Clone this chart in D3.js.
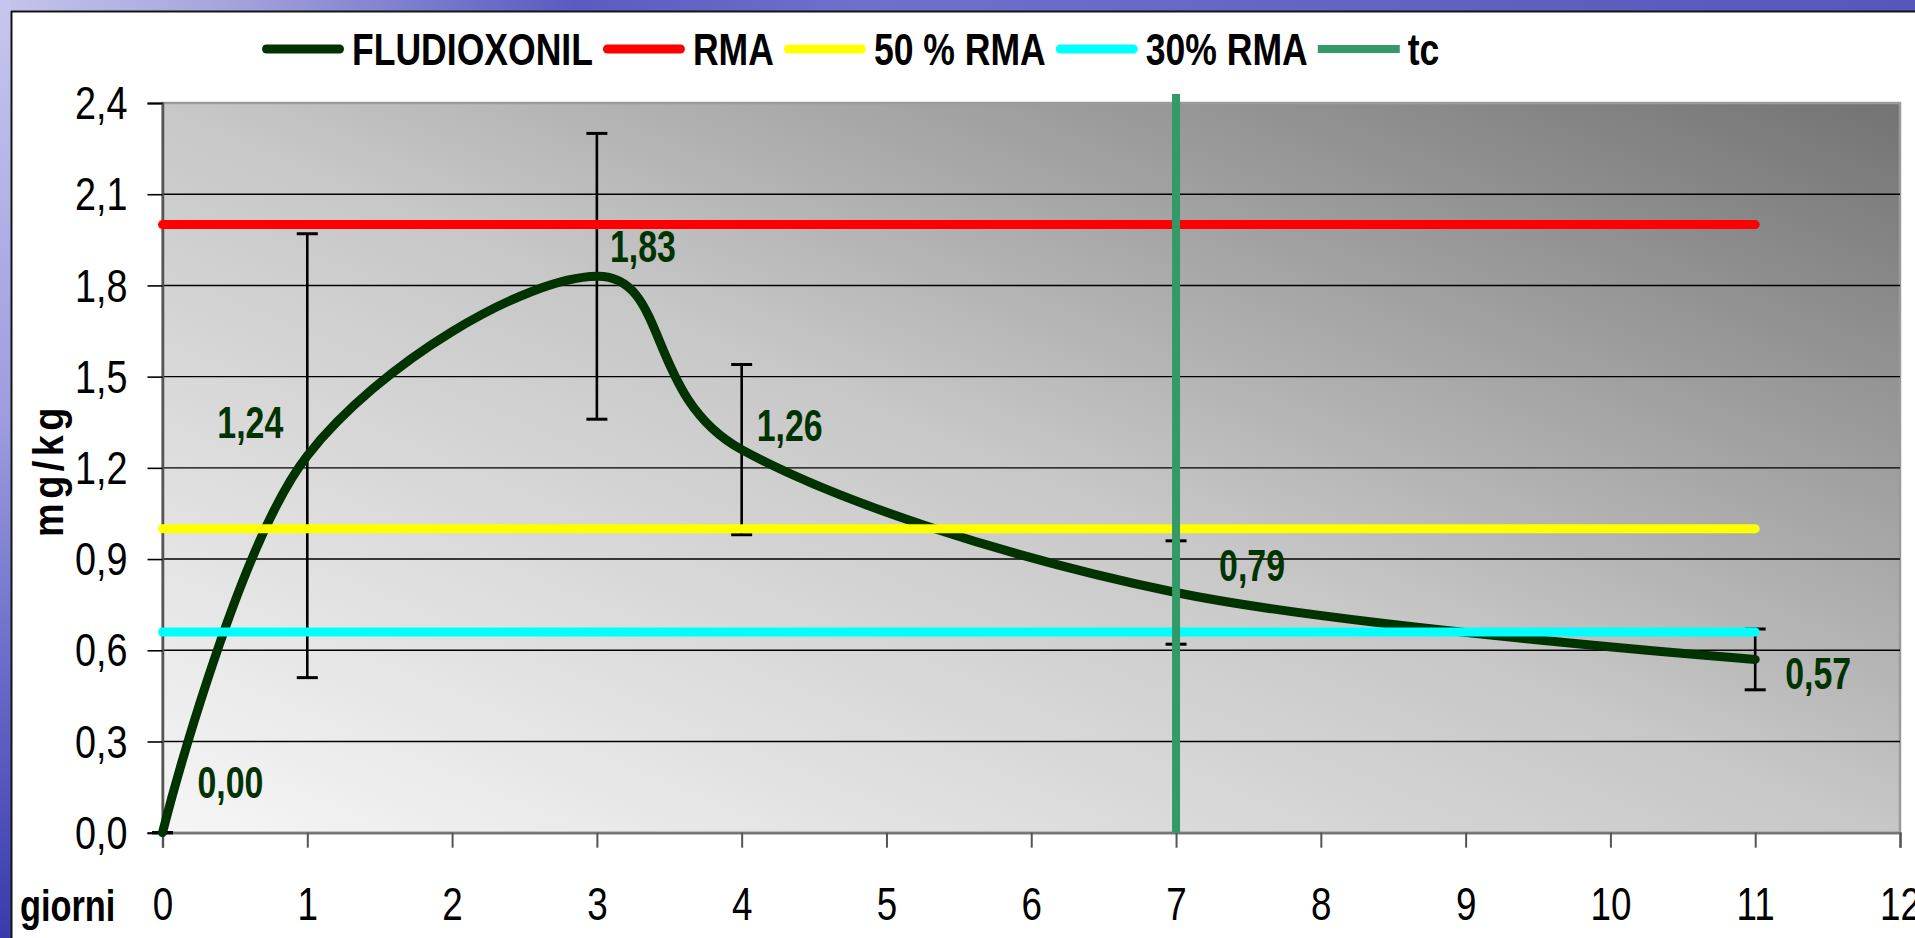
<!DOCTYPE html>
<html><head><meta charset="utf-8">
<script src="https://cdn.jsdelivr.net/npm/d3@7"></script>
<style>
html,body{margin:0;padding:0;background:#fff;overflow:hidden}
svg{display:block}
</style></head><body>
<svg id="chart" width="1915" height="938"></svg>
<script>
// ---------- data ----------
const days         = [0, 1, 3, 4, 7, 11];
const fludioxonil  = [0.00, 1.24, 1.83, 1.26, 0.79, 0.57];
const errorAmount  = [0.00, 0.73, 0.47, 0.28, 0.17, 0.10];
const refX         = [0, 11];
const rma          = [2.0, 2.0];
const rma50        = [1.0, 1.0];
const rma30        = [0.66, 0.66];
const tcX          = [7, 7];
const tcY          = [0, 2.43];
const xTickValues  = [0,1,2,3,4,5,6,7,8,9,10,11,12];
const yTickValues  = [0,0.3,0.6,0.9,1.2,1.5,1.8,2.1,2.4];
const legendLabels = ["FLUDIOXONIL","RMA","50 % RMA","30% RMA","tc"];
const seriesColors = ["#003300","#ff0000","#ffff00","#00ffff","#339966"];
// label nudges (pixels, relative to the point)
const labelNudge   = [[35,-35],[-90,-18],[13,-14],[15,-9],[43,-12],[30,30]];

// ---------- setup ----------
const W = 1915, H = 938;
const svg = d3.select("#chart");
const defs = svg.append("defs");
const itLocale = d3.formatLocale({decimal:",", thousands:".", grouping:[3], currency:["","€"]});
const f1 = itLocale.format(".1f"), f2 = itLocale.format(".2f");
const FONT = "'Liberation Sans Narrow','Arial Narrow','Liberation Sans',Arial,sans-serif";
function narrow(sel, factor){
  sel.each(function(){
    const len = this.getComputedTextLength();
    d3.select(this).attr("textLength", len*factor).attr("lengthAdjust","spacingAndGlyphs");
  });
}

const x0 = 162.5, x1 = 1900, yTop = 103, yBot = 832.7;
const x = d3.scaleLinear().domain([0,12]).range([x0,x1]);
const y = d3.scaleLinear().domain([0,2.4]).range([yBot,yTop]);

// ---------- slide background ----------
svg.append("rect").attr("width",W).attr("height",H).attr("fill","#fff");
const gTop = defs.append("linearGradient").attr("id","gTop").attr("x1",0).attr("x2",1).attr("y1",0).attr("y2",0);
[[0,"#c4c4ec"],[0.12,"#a4a4dc"],[0.3,"#5a5ac2"],[0.45,"#7070cc"],[0.65,"#6666c6"],[1,"#5656bc"]]
  .forEach(s=>gTop.append("stop").attr("offset",s[0]).attr("stop-color",s[1]));
const gLeft = defs.append("linearGradient").attr("id","gLeft").attr("x1",0).attr("x2",0).attr("y1",0).attr("y2",1);
[[0,"#c6c6ee"],[0.45,"#9c9cde"],[0.75,"#6464c6"],[1,"#3a3aaa"]]
  .forEach(s=>gLeft.append("stop").attr("offset",s[0]).attr("stop-color",s[1]));
svg.append("rect").attr("x",0).attr("y",0).attr("width",W).attr("height",11).attr("fill","url(#gTop)");
svg.append("rect").attr("x",0).attr("y",0).attr("width",11).attr("height",H).attr("fill","url(#gLeft)");
svg.append("line").attr("x1",11).attr("x2",W).attr("y1",11.5).attr("y2",11.5).attr("stroke","#151515").attr("stroke-width",2);
svg.append("line").attr("x1",11.5).attr("x2",11.5).attr("y1",11).attr("y2",H).attr("stroke","#151515").attr("stroke-width",2);

// ---------- plot area ----------
const gPlot = defs.append("linearGradient").attr("id","gPlot").attr("x1",0).attr("y1",1).attr("x2",1).attr("y2",0);
[[0,"#f6f6f6"],[0.5,"#c7c7c7"],[1,"#737373"]]
  .forEach(s=>gPlot.append("stop").attr("offset",s[0]).attr("stop-color",s[1]));
svg.append("rect").attr("x",x0).attr("y",yTop).attr("width",x1-x0).attr("height",yBot-yTop)
  .attr("fill","url(#gPlot)").attr("stroke","#9a9a9a").attr("stroke-width",2.5);

// gridlines
svg.append("g").selectAll("line").data(yTickValues.filter(v=>v>0 && v<2.4)).join("line")
  .attr("x1",x0).attr("x2",x1).attr("y1",d=>y(d)).attr("y2",d=>y(d))
  .attr("stroke","#000").attr("stroke-width",1.4);

// y axis
const yAxis = svg.append("g").attr("transform",`translate(${x0},0)`)
  .call(d3.axisLeft(y).tickValues(yTickValues).tickFormat(f1).tickSize(15).tickPadding(20));
yAxis.select(".domain").attr("stroke","#555").attr("stroke-width",2.5);
yAxis.selectAll(".tick line").attr("stroke","#000").attr("stroke-width",1.6);
yAxis.selectAll(".tick text").attr("font-family",FONT).attr("font-size",46).attr("dy","0.34em")
  .attr("fill","#000").call(narrow, 0.82);

// x axis
const xAxis = svg.append("g").attr("transform",`translate(0,${yBot})`)
  .call(d3.axisBottom(x).tickValues(xTickValues).tickFormat(d3.format("d")).tickSize(15).tickPadding(40));
xAxis.select(".domain").attr("stroke","#777").attr("stroke-width",2.5);
xAxis.selectAll(".tick line").attr("stroke","#555").attr("stroke-width",2);
xAxis.selectAll(".tick text").attr("font-family",FONT).attr("font-size",46).attr("fill","#000").call(narrow, 0.8);

// axis titles
svg.append("text").attr("x",20).attr("y",921).text("giorni")
  .attr("font-family",FONT).attr("font-weight","bold").attr("font-size",44).attr("fill","#000").call(narrow, 0.78);
svg.append("text").attr("transform","translate(63,470) rotate(-90)").attr("text-anchor","middle")
  .text("mg/kg").attr("letter-spacing",5)
  .attr("font-family",FONT).attr("font-weight","bold").attr("font-size",42).attr("fill","#000").call(narrow, 0.9);

// ---------- series ----------
const pts = days.map((d,i)=>({x:d, y:fludioxonil[i], e:errorAmount[i]}));

// error bars
const eb = svg.append("g").attr("stroke","#000").attr("stroke-width",2.6);
pts.forEach(p=>{
  const cx = x(p.x);
  eb.append("line").attr("x1",cx).attr("x2",cx).attr("y1",y(p.y-p.e)).attr("y2",y(p.y+p.e));
  [p.y-p.e, p.y+p.e].forEach(v=>{
    eb.append("line").attr("x1",cx-10.5).attr("x2",cx+10.5).attr("y1",y(v)).attr("y2",y(v)).attr("stroke-width",3);
  });
});

// fludioxonil smoothed line
const smooth = d3.line().x(d=>x(d.x)).y(d=>y(d.y)).curve(d3.curveCardinal.tension(0));
svg.append("path").datum(pts).attr("d",smooth).attr("fill","none")
  .attr("stroke",seriesColors[0]).attr("stroke-width",9).attr("stroke-linejoin","round").attr("stroke-linecap","round");

// reference lines
const straight = d3.line().x(d=>x(d[0])).y(d=>y(d[1]));
[[rma,1],[rma50,2],[rma30,3]].forEach(([vals,ci])=>{
  svg.append("path").datum(refX.map((d,i)=>[d,vals[i]])).attr("d",straight).attr("fill","none")
    .attr("stroke",seriesColors[ci]).attr("stroke-width",9).attr("stroke-linecap","round");
});
svg.append("path").datum(tcX.map((d,i)=>[d,tcY[i]])).attr("d",straight).attr("fill","none")
  .attr("stroke",seriesColors[4]).attr("stroke-width",8);

// data labels
svg.append("g").selectAll("text").data(pts).join("text")
  .attr("x",(d,i)=>x(d.x)+labelNudge[i][0]).attr("y",(d,i)=>y(d.y)+labelNudge[i][1])
  .text(d=>f2(d.y))
  .attr("font-family",FONT).attr("font-weight","bold").attr("font-size",44).attr("fill","#003300")
  .call(narrow, 0.77);

// ---------- legend ----------
const lg = svg.append("g").attr("transform","translate(0,49)");
let cursor = 262;
legendLabels.forEach((lab,i)=>{
  const round = i < 4;
  lg.append("line").attr("x1",cursor+(round?4.5:0)).attr("x2",cursor+82-(round?4.5:0)).attr("y1",0).attr("y2",0)
    .attr("stroke",seriesColors[i]).attr("stroke-width",i===4?8:9).attr("stroke-linecap",round?"round":"butt");
  cursor += 82 + 8;
  const t = lg.append("text").attr("x",cursor).attr("y",16).text(lab)
    .attr("font-family",FONT).attr("font-weight","bold").attr("font-size",45).attr("fill","#000");
  narrow(t, 0.79);
  cursor += t.node().getComputedTextLength() + 10;
});
</script>
</body></html>
